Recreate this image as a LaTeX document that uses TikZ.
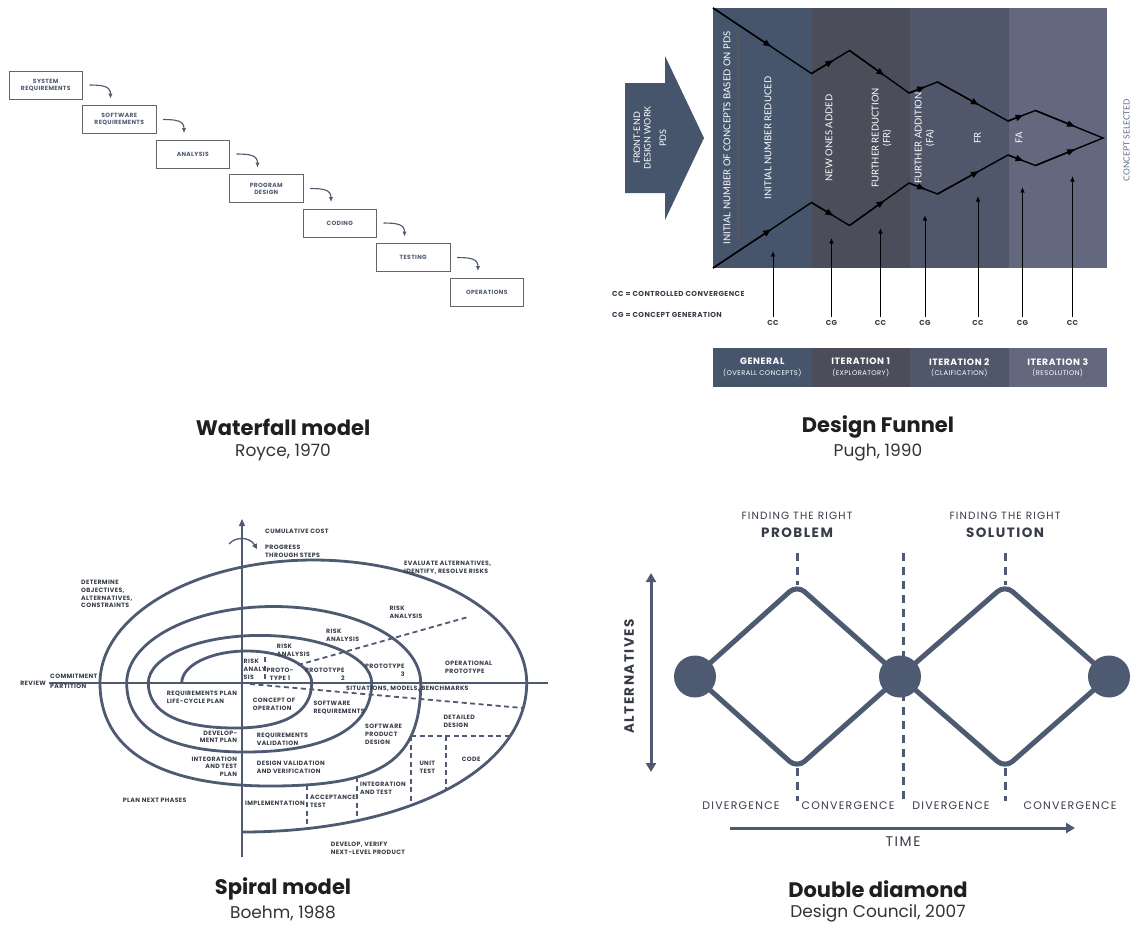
\documentclass[tikz,border=0pt]{standalone}
\usepackage{fontspec}
\setmainfont{Poppins}
\newfontfamily\trackfont{Poppins}[LetterSpace=6]
\newfontfamily\widefont{Poppins}[LetterSpace=11]
\newfontfamily\latofont{Lato}
\usetikzlibrary{positioning, calc, arrows.meta}
\definecolor{slate}{RGB}{78, 90, 114}
\definecolor{ink}{RGB}{55, 60, 72}
\definecolor{panelA}{RGB}{71, 85, 108}
\definecolor{panelB}{RGB}{75, 77, 91}
\definecolor{panelC}{RGB}{81, 87, 106}
\definecolor{panelD}{RGB}{99, 104, 127}
\definecolor{hint}{RGB}{96, 110, 135}

\begin{document}
\begin{tikzpicture}[
    x=1pt, y=-1pt,
    stage/.style={draw=black!60, line width=1pt, outer sep=0pt, minimum width=73.5pt, minimum height=28pt, inner sep=1pt, align=center, text=slate, font=\trackfont\bfseries\fontsize{6}{7}\selectfont},
    fall/.style={-{Latex[length=5pt, width=4.5pt]}, draw=slate, line width=1.1pt},
    capt/.style={text=black!88, font=\bfseries\fontsize{21}{24}\selectfont},
    capsub/.style={text=black!80, font=\fontsize{17}{20}\selectfont},
    vlabel/.style={rotate=90, text=white, align=center, inner sep=0pt, font=\latofont\fontsize{9.5}{11.5}\selectfont},
    zig/.style={draw=black, line width=1.4pt},
    midtip/.style={draw=black, line width=1.4pt, -{Latex[length=9pt, width=7pt]}},
    riser/.style={-{Latex[length=5.5pt, width=4.5pt]}, draw=black, line width=1pt, shorten <=2pt},
    tag/.style={inner sep=1pt, text=ink, font=\trackfont\bfseries\fontsize{7.2}{8.5}\selectfont},
    iter/.style={minimum width=98.5pt, minimum height=39pt, inner sep=0pt, outer sep=0pt, align=center, text=white, font=\trackfont\fontsize{8.5}{10.5}\selectfont},
    spiral/.style={draw=slate, line width=2.8pt},
    axisline/.style={draw=slate, line width=1.3pt},
    guide/.style={draw=slate, line width=1.8pt, dash pattern=on 5pt off 3.5pt},
    note/.style={inner sep=0pt, align=left, text=ink, font=\trackfont\bfseries\fontsize{6.2}{7.7}\selectfont},
    rim/.style={draw=slate, line width=5pt, rounded corners=10pt},
    hub/.style={circle, fill=slate, minimum size=42pt, inner sep=0pt},
    split/.style={draw=slate, line width=3pt, dash pattern=on 8pt off 6pt},
    phase/.style={text=ink, font=\widefont\fontsize{11}{13}\selectfont},
  ]
  \useasboundingbox (0,0) rectangle (1134,951);
  \fill[white] (0,0) rectangle (1134,951);

  % Waterfall model
  \node[stage] (w1) at (45.75,85) {SYSTEM\\REQUIREMENTS};
  \node[stage, below right=6.5pt and 0pt of w1] (w2) {SOFTWARE\\REQUIREMENTS};
  \node[stage, below right=6.5pt and 0pt of w2] (w3) {ANALYSIS};
  \node[stage, below right=6.5pt and 0pt of w3] (w4) {PROGRAM\\DESIGN};
  \node[stage, below right=6.5pt and 0pt of w4] (w5) {CODING};
  \node[stage, below right=6.5pt and 0pt of w5] (w6) {TESTING};
  \node[stage, below right=6.5pt and 0pt of w6] (w7) {OPERATIONS};
  \foreach \a/\b in {w1/w2, w2/w3, w3/w4, w4/w5, w5/w6, w6/w7}
    \draw[fall] ($(\a.east)+(7,0)$) .. controls +(14,0) and +(0,-12) .. ($(\b.north west)+(28,-7)$);

  % Design funnel
  \fill[panelA] (713,8) rectangle (811.5,268);
  \fill[panelB] (811.5,8) rectangle (910,268);
  \fill[panelC] (910,8) rectangle (1008.5,268);
  \fill[panelD] (1008.5,8) rectangle (1107,268);
  \fill[panelA] (625,83) -- (665,83) -- (665,56) -- (704,138) -- (665,220) -- (665,193) -- (625,193) -- cycle;
  \node[vlabel, font=\latofont\fontsize{9}{10.5}\selectfont] (front) at (650,138) {FRONT-END\\DESIGN WORK\\[5pt]PDS};
  \foreach \n/\x/\y in {0/713/8, 1/811.5/73.5, 2/849.5/50.5, 3/909/93, 4/937.5/82, 5/1008/121, 6/1035.5/110.5, 7/1103/138} {
    \coordinate (t\n) at (\x,\y);
    \coordinate (b\n) at (\x,276-\y);
  }
  \draw[zig] (t0) -- (t1) -- (t2) -- (t3) -- (t4) -- (t5) -- (t6) -- (t7)
    -- (b6) -- (b5) -- (b4) -- (b3) -- (b2) -- (b1) -- (b0);
  \foreach \i [evaluate=\i as \j using int(\i+1)] in {0,...,6} {
    \draw[midtip] (t\i) -- ($(t\i)!0.6!(t\j)$);
    \draw[midtip] (b\i) -- ($(b\i)!0.6!(b\j)$);
  }
  \coordinate (n0) at (738,33);
  \coordinate (n1) at (738,240);
  \draw[{Latex[length=4pt, width=3.5pt]}-{Latex[length=4pt, width=3.5pt]}, black!65, line width=0.6pt] (n0) -- (n1);
  \node[vlabel] (pds) at (727,138) {INITIAL NUMBER OF CONCEPTS BASED ON PDS};
  \node[vlabel] (red) at (768,138) {INITIAL NUMBER REDUCED};
  \node[vlabel] (add) at (829,138) {NEW ONES ADDED};
  \node[vlabel] (fr) at (881.5,138) {FURTHER REDUCTION\\(FR)};
  \node[vlabel] (fa) at (924.5,138) {FURTHER ADDITION\\(FA)};
  \node[vlabel] (fr2) at (977.5,138) {FR};
  \node[vlabel] (fa2) at (1019,138) {FA};
  \node[vlabel, text=hint, font=\latofont\fontsize{8.5}{10}\selectfont] (sel) at (1126.5,140) {CONCEPT SELECTED};
  \foreach \i/\x/\y/\t in {1/773/251/CC, 2/831.5/238/CG, 3/880.5/228/CC, 4/925/215/CG, 5/978/196/CC, 6/1022.5/187/CG, 7/1072.5/176/CC} {
    \node[tag] (l\i) at (\x,323) {\t};
    \coordinate (r\i) at (\x,\y);
    \draw[riser] (l\i.north) -- (r\i);
  }
  \node[tag, anchor=west] (ccdef) at (611,294) {CC = CONTROLLED CONVERGENCE};
  \node[tag, anchor=west] (cgdef) at (611,315) {CG = CONCEPT GENERATION};
  \node[iter, fill=panelA] (it0) at (762.25,367.5) {{\bfseries\fontsize{9.2}{11}\selectfont GENERAL}\\{\fontsize{6.8}{8}\selectfont (OVERALL CONCEPTS)}};
  \node[iter, fill=panelB] (it1) at (860.75,367.5) {{\bfseries\fontsize{9.2}{11}\selectfont ITERATION 1}\\{\fontsize{6.8}{8}\selectfont (EXPLORATORY)}};
  \node[iter, fill=panelC] (it2) at (959.25,367.5) {{\bfseries\fontsize{9.2}{11}\selectfont ITERATION 2}\\{\fontsize{6.8}{8}\selectfont (CLAIFICATION)}};
  \node[iter, fill=panelD] (it3) at (1057.75,367.5) {{\bfseries\fontsize{9.2}{11}\selectfont ITERATION 3}\\{\fontsize{6.8}{8}\selectfont (RESOLUTION)}};

  % Spiral model
  \coordinate (ax0) at (242,857);
  \coordinate (ax1) at (242,519);
  \coordinate (ay0) at (49,683);
  \coordinate (ay1) at (548,683);
  \draw[axisline, -{Triangle[length=7pt, width=6pt]}] (ax0) -- (ax1);
  \draw[axisline] (ay0) -- (ay1);
  \coordinate (pg0) at (229,544);
  \coordinate (pg1) at (257,549);
  \draw[axisline, -{Triangle[length=5pt, width=5pt]}] (pg0) .. controls (236,536) and (250,537) .. (pg1);
  \draw[spiral] (181.7,683)
    arc[start angle=180, end angle=360, x radius=65, y radius=32]
    .. controls (311.7,712.25) and (284.9,728) .. (235,728)
    .. controls (178.6,728) and (148.3,712.25) .. (148.3,683)
    arc[start angle=180, end angle=360, x radius=111.7, y radius=47.6]
    .. controls (371.7,727.85) and (327.4,752) .. (245,752)
    .. controls (168.1,752) and (126.7,727.85) .. (126.7,683)
    arc[start angle=180, end angle=360, x radius=147, y radius=76.5]
    .. controls (420.7,760.25) and (383,786) .. (270,786)
    .. controls (159.5,786) and (100,750) .. (100,683)
    arc[start angle=180, end angle=360, x radius=213.35, y radius=123]
    .. controls (526.7,769.4) and (407.1,832) .. (242,832);
  \draw[guide] (265,657) -- (265,683);
  \draw[guide] (298,665) -- (468,617);
  \draw[guide] (250,684) -- (523,708);
  \draw[guide] (411,736) -- (510,736);
  \draw[guide] (411,736) -- (411,806);
  \draw[guide] (446,736) -- (446,790);
  \draw[guide] (306.7,785) -- (306.7,829);
  \draw[guide] (356.7,777) -- (356.7,821);
  \node[note, anchor=west] (cost) at (265,531) {CUMULATIVE COST};
  \node[note, anchor=west] (prog) at (265,551) {PROGRESS\\THROUGH STEPS};
  \node[note, anchor=west] (dobj) at (81,594) {DETERMINE\\OBJECTIVES,\\ALTERNATIVES,\\CONSTRAINTS};
  \node[note, anchor=east] (rev) at (46,683) {REVIEW};
  \node[note, anchor=west] (commit) at (50,681.7) {COMMITMENT\\[2.3pt]PARTITION};
  \node[note, anchor=west] (ra0) at (243.5,669.3) {RISK\\ANALY\\SIS};
  \node[note, align=center] (pt1) at (280,674) {PROTO-\\TYPE 1};
  \node[note, anchor=west] (ra1) at (276.7,650) {RISK\\ANALYSIS};
  \node[note, anchor=west] (rp) at (166.7,697) {REQUIREMENTS PLAN\\LIFE-CYCLE PLAN};
  \node[note, anchor=west] (eval) at (404,568) {EVALUATE ALTERNATIVES,\\IDENTIFY, RESOLVE RISKS};
  \node[note, anchor=west] (ra3) at (389.3,612) {RISK\\ANALYSIS};
  \node[note, anchor=west] (ra2) at (326,635.5) {RISK\\ANALYSIS};
  \node[note, anchor=west, align=right] (pt2) at (305,674) {PROTOTYPE\\2};
  \node[note, anchor=west, align=right] (pt3) at (365,670.5) {PROTOTYPE\\3};
  \node[note, anchor=west] (opt) at (445,667) {OPERATIONAL\\PROTOTYPE};
  \node[note, anchor=west] (smb) at (346,688.3) {SITUATIONS, MODELS, BENCHMARKS};
  \node[note, anchor=west] (cop) at (252.7,704) {CONCEPT OF\\OPERATION};
  \node[note, anchor=west] (swr) at (313.3,707.7) {SOFTWARE\\REQUIREMENTS};
  \node[note, anchor=west] (rqv) at (256.7,739) {REQUIREMENTS\\VALIDATION};
  \node[note, anchor=west] (spd) at (365,734.3) {SOFTWARE\\PRODUCT\\DESIGN};
  \node[note, anchor=west] (dd) at (443.3,721) {DETAILED\\DESIGN};
  \node[note, anchor=west] (dvv) at (256.7,767) {DESIGN VALIDATION\\AND VERIFICATION};
  \node[note, anchor=west] (ut) at (419.3,767) {UNIT\\TEST};
  \node[note, anchor=west] (code) at (461.7,759.3) {CODE};
  \node[note, anchor=west] (iat) at (360,788) {INTEGRATION\\AND TEST};
  \node[note, anchor=west] (acc) at (310,801.5) {ACCEPTANCE\\TEST};
  \node[note, anchor=west] (impl) at (245,803.3) {IMPLEMENTATION};
  \node[note, anchor=west] (dvn) at (330.7,848) {DEVELOP, VERIFY\\NEXT-LEVEL PRODUCT};
  \node[note, anchor=east, align=right] (dmp) at (237.3,736.7) {DEVELOP-\\MENT PLAN};
  \node[note, anchor=east, align=right] (itp) at (237.3,766.7) {INTEGRATION\\AND TEST\\PLAN};
  \node[note, anchor=west] (pnp) at (122.7,800.7) {PLAN NEXT PHASES};

  % Double diamond
  \coordinate (vA) at (695,676.5);
  \coordinate (vB) at (900,676.5);
  \coordinate (vC) at (1109,676.5);
  \coordinate (pT) at (797,585);
  \coordinate (pB) at (797,768);
  \coordinate (sT) at (1005,585);
  \coordinate (sB) at (1005,768);
  \draw[rim] (vA) -- (pT) -- (vB) -- (pB) -- cycle;
  \draw[rim] (vB) -- (sT) -- (vC) -- (sB) -- cycle;
  \coordinate (pTu) at (797,553);
  \coordinate (pBd) at (797,801);
  \coordinate (mU) at (903,553);
  \coordinate (mD) at (903,801);
  \coordinate (sTu) at (1005,553);
  \coordinate (sBd) at (1005,801);
  \draw[split] (pTu) -- (pT);
  \draw[split] (pB) -- (pBd);
  \draw[split] (mU) -- (mD);
  \draw[split] (sTu) -- (sT);
  \draw[split] (sB) -- (sBd);
  \node[hub] (dA) at (vA) {};
  \node[hub] (dB) at (vB) {};
  \node[hub] (dC) at (vC) {};
  \node[phase, font=\widefont\fontsize{10.5}{12}\selectfont] (fp) at (797,516) {FINDING THE RIGHT};
  \node[phase, font=\widefont\bfseries\fontsize{13.5}{15}\selectfont] (prob) at (797,533) {PROBLEM};
  \node[phase, font=\widefont\fontsize{10.5}{12}\selectfont] (fs) at (1005,516) {FINDING THE RIGHT};
  \node[phase, font=\widefont\bfseries\fontsize{13.5}{15}\selectfont] (sol) at (1005,533) {SOLUTION};
  \coordinate (al0) at (651,772);
  \coordinate (al1) at (651,573);
  \draw[draw=slate, line width=3pt, {Triangle[length=9pt, width=10pt]}-{Triangle[length=9pt, width=10pt]}] (al0) -- (al1);
  \node[phase, rotate=90, font=\widefont\bfseries\fontsize{13.5}{15}\selectfont] (alt) at (629,676.5) {ALTERNATIVES};
  \coordinate (tm0) at (730,828);
  \coordinate (tm1) at (1075,828);
  \draw[draw=slate, line width=3pt, -{Triangle[length=9pt, width=10pt]}] (tm0) -- (tm1);
  \node[phase, font=\widefont\fontsize{14}{16}\selectfont] (time) at (903,842) {TIME};
  \node[phase] (dv1) at (741,806) {DIVERGENCE};
  \node[phase] (cv1) at (848,806) {CONVERGENCE};
  \node[phase] (dv2) at (951,806) {DIVERGENCE};
  \node[phase] (cv2) at (1070,806) {CONVERGENCE};

  % Captions
  \node[capt] (cw) at (283,427) {Waterfall model};
  \node[capsub] (cwy) at (283,452) {Royce, 1970};
  \node[capt] (cf) at (878,427) {Design Funnel};
  \node[capsub] (cfy) at (878,452) {Pugh, 1990};
  \node[capt] (cs) at (283,889) {Spiral model};
  \node[capsub] (csy) at (283,913) {Boehm, 1988};
  \node[capt] (cd) at (878,889) {Double diamond};
  \node[capsub] (cdy) at (878,913) {Design Council, 2007};
\end{tikzpicture}
\end{document}
